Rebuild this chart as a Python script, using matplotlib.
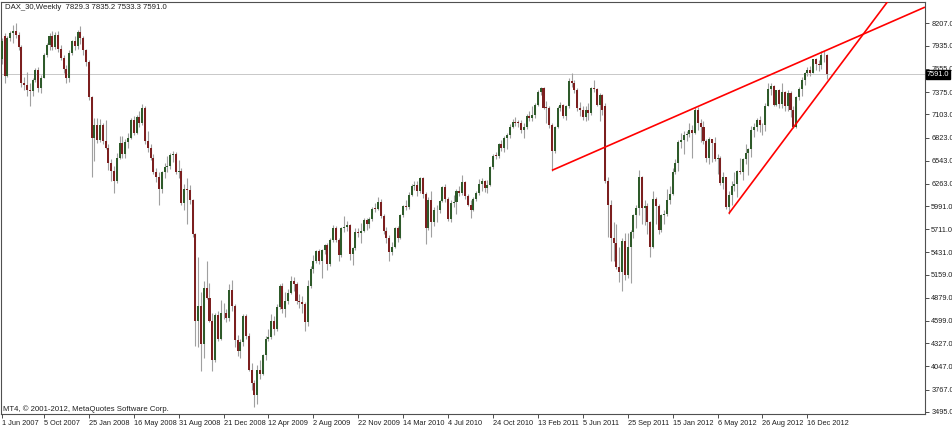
import numpy as np
import matplotlib
matplotlib.use("Agg")
import matplotlib.pyplot as plt
import matplotlib.transforms as mtransforms

plt.rcParams["font.family"] = ["Liberation Sans", "DejaVu Sans"]

# weekly DAX_30 candles, first visible bar is week index 3
first_bar = 3

opens = [
    7770, 8050, 7570, 8030, 8090, 8120, 8070, 7920, 7480, 7460,
    7400, 7390, 7520, 7640, 7420, 7550, 7820, 7950, 8060, 7920,
    8070, 7900, 7790, 7660, 7540, 7850, 7990, 7930, 8100, 8030,
    7880, 7740, 7310, 6820, 6980, 6790, 6980, 6780, 6700, 6520,
    6420, 6300, 6580, 6760, 6620, 6770, 6820, 7030, 6880, 7070,
    7000, 7180, 6780, 6700, 6580, 6400, 6340, 6200, 6400, 6460,
    6480, 6610, 6620, 6410, 6420, 6030, 6200, 6190, 6060, 5650,
    4600, 4780, 4320, 5000, 4880, 4600, 4130, 4670, 4380, 4700,
    4690, 4630, 4970, 4780, 4370, 4230, 4340, 4660, 4420, 4000,
    3840, 3700, 4000, 3950, 4180, 4380, 4400, 4600, 4500, 4770,
    5020, 4740, 4840, 4940, 5080, 5050, 4840, 4830, 4810, 4580,
    5020, 5230, 5330, 5450, 5330, 5460, 5520, 5290, 5580, 5730,
    5580, 5400, 5720, 5740, 5760, 5410, 5480, 5680, 5660, 5690,
    5820, 5780, 5830, 5970, 5960, 6040, 5870, 5690, 5610, 5430,
    5500, 5720, 5600, 5880, 5990, 5980, 6130, 6240, 6250, 6180,
    6330, 6140, 5720, 6060, 5800, 5950, 5940, 6050, 6220, 6080,
    5830, 6030, 6040, 6170, 6150, 6280, 6110, 6010, 5950, 6080,
    6150, 6260, 6290, 6210, 6250, 6460, 6610, 6600, 6750, 6700,
    6820, 6850, 6950, 7010, 7010, 7000, 6910, 6950, 7080, 7060,
    7100, 7220, 7370, 7430, 7190, 7180, 6980, 6660, 6950, 7180,
    7220, 7080, 7200, 7510, 7490, 7400, 7180, 7160, 7070, 7160,
    7120, 7430, 7410, 7220, 7340, 7200, 6300, 6000, 5600, 5540,
    5250, 5190, 5570, 5160, 5500, 5680, 5880, 5970, 6350, 5970,
    5990, 5800, 5490, 6080, 5990, 5700, 5880, 5900, 6060, 6140,
    6400, 6510, 6770, 6790, 6850, 6860, 6920, 6880, 7160, 7000,
    6950, 6780, 6580, 6800, 6760, 6560, 6580, 6270, 6340, 5980,
    6130, 6230, 6260, 6420, 6410, 6560, 6630, 6690, 6920, 6950,
    7040, 6970, 6980, 7210, 7410, 7450, 7220, 7400, 7230, 7380,
    7200, 7360, 7160, 6950, 7310, 7410, 7520, 7600, 7640, 7610,
    7780, 7720, 7700, 7830, 7829.3,
]
highs = [
    8030, 8090, 8060, 8110, 8190, 8210, 8100, 7950, 7560, 7620,
    7480, 7540, 7670, 7680, 7580, 7850, 7970, 8090, 8110, 8100,
    8110, 7940, 7830, 7700, 7880, 8010, 8050, 8130, 8180, 8060,
    7900, 7760, 7330, 7060, 7060, 7050, 7000, 7040, 6740, 6560,
    6480, 6640, 6840, 6840, 6800, 6880, 7060, 7090, 7100, 7140,
    7230, 7200, 6900, 6750, 6620, 6450, 6400, 6420, 6520, 6600,
    6640, 6660, 6650, 6550, 6450, 6260, 6330, 6250, 6080, 5670,
    5380, 4950, 5080, 5320, 5060, 4700, 4700, 4720, 4850, 4820,
    4740, 5050, 5100, 4800, 4430, 4380, 4680, 4680, 4450, 4090,
    3880, 4060, 4130, 4200, 4420, 4500, 4680, 4660, 4800, 5050,
    5060, 4950, 4990, 5140, 5130, 5070, 4920, 4900, 4830, 5100,
    5270, 5400, 5460, 5470, 5470, 5530, 5540, 5600, 5760, 5750,
    5610, 5740, 5870, 5810, 5780, 5500, 5720, 5730, 5790, 5850,
    5850, 5860, 5980, 6030, 6100, 6080, 5890, 5740, 5640, 5560,
    5740, 5750, 5900, 6000, 6060, 6160, 6260, 6290, 6300, 6340,
    6340, 6160, 6100, 6170, 5980, 6000, 6060, 6240, 6260, 6100,
    6070, 6130, 6200, 6240, 6370, 6300, 6140, 6060, 6100, 6180,
    6320, 6330, 6310, 6310, 6480, 6620, 6650, 6760, 6790, 6840,
    6880, 6990, 7050, 7070, 7040, 7030, 7000, 7110, 7150, 7200,
    7240, 7400, 7440, 7440, 7270, 7200, 7000, 6960, 7200, 7250,
    7230, 7220, 7540, 7600, 7520, 7420, 7260, 7200, 7200, 7240,
    7440, 7520, 7430, 7360, 7350, 7240, 6350, 6060, 5800, 5780,
    5500, 5600, 5670, 5670, 5700, 5900, 6000, 6430, 6360, 6060,
    6030, 5810, 6170, 6100, 6020, 5900, 5950, 6200, 6230, 6450,
    6560, 6790, 6880, 6900, 6900, 7000, 6970, 7190, 7190, 7050,
    7020, 6800, 6830, 6810, 6830, 6620, 6600, 6400, 6350, 6180,
    6300, 6410, 6430, 6580, 6580, 6740, 6700, 6960, 7000, 7060,
    7080, 7000, 7240, 7480, 7480, 7460, 7400, 7410, 7480, 7390,
    7400, 7390, 7200, 7330, 7440, 7560, 7620, 7680, 7690, 7780,
    7790, 7760, 7870, 7870, 7835.2,
]
lows = [
    7720, 7490, 7560, 7990, 7970, 8030, 7880, 7440, 7400, 7330,
    7200, 7330, 7500, 7380, 7360, 7540, 7800, 7890, 7880, 7900,
    7860, 7760, 7610, 7480, 7500, 7820, 7890, 7900, 7960, 7830,
    7690, 7280, 6350, 6540, 6760, 6770, 6740, 6690, 6430, 6290,
    6150, 6270, 6560, 6580, 6580, 6700, 6800, 6850, 6870, 6950,
    6980, 6750, 6650, 6550, 6380, 6280, 6010, 6150, 6330, 6400,
    6440, 6530, 6380, 6330, 6000, 5950, 5770, 6020, 5620, 4300,
    4280, 3990, 4150, 4860, 4590, 3990, 4100, 4350, 4370, 4620,
    4580, 4600, 4720, 4280, 4170, 4150, 4300, 4380, 3990, 3760,
    3550, 3590, 3900, 3940, 4130, 4350, 4380, 4430, 4480, 4740,
    4700, 4650, 4800, 4920, 4960, 4800, 4760, 4700, 4480, 4540,
    5000, 5180, 5300, 5290, 5120, 5410, 5220, 5270, 5560, 5560,
    5330, 5380, 5680, 5690, 5340, 5280, 5460, 5620, 5540, 5680,
    5700, 5720, 5810, 5920, 5950, 5850, 5650, 5540, 5330, 5400,
    5480, 5560, 5590, 5860, 5940, 5960, 6110, 6190, 6120, 6150,
    6090, 5530, 5700, 5620, 5750, 5800, 5910, 6040, 6040, 5810,
    5800, 5980, 5890, 6110, 6130, 6080, 5990, 5850, 5930, 6050,
    6130, 6180, 6160, 6150, 6230, 6440, 6560, 6580, 6660, 6650,
    6690, 6820, 6940, 6960, 6950, 6880, 6820, 6930, 7020, 7020,
    7060, 7200, 7340, 7170, 7000, 6940, 6420, 6640, 6940, 7150,
    7060, 7040, 7180, 7440, 7360, 7140, 7090, 7040, 7020, 7030,
    7100, 7380, 7200, 7020, 7100, 6270, 5620, 5330, 5330, 5230,
    5070, 4960, 5090, 5120, 5060, 5600, 5720, 5880, 5780, 5760,
    5650, 5370, 5480, 5780, 5650, 5680, 5780, 5870, 6020, 6130,
    6380, 6420, 6700, 6620, 6780, 6830, 6580, 6870, 6920, 6770,
    6740, 6530, 6500, 6530, 6540, 6380, 6250, 6200, 5960, 5900,
    6010, 6180, 6100, 6380, 6310, 6500, 6370, 6590, 6830, 6900,
    6890, 6850, 6900, 7200, 7340, 7200, 7210, 7180, 7180, 7150,
    7150, 7070, 6940, 6940, 7280, 7330, 7460, 7570, 7570, 7600,
    7640, 7630, 7660, 7740, 7533.3,
]
closes = [
    7990, 7570, 8030, 8090, 8120, 8070, 7920, 7480, 7460, 7400,
    7390, 7520, 7640, 7420, 7550, 7820, 7950, 8060, 7920, 8070,
    7900, 7790, 7660, 7540, 7850, 7990, 7930, 8100, 8030, 7880,
    7740, 7310, 6820, 6980, 6790, 6980, 6780, 6700, 6520, 6420,
    6300, 6580, 6760, 6620, 6770, 6820, 7030, 6880, 7070, 7000,
    7180, 6780, 6700, 6580, 6400, 6340, 6200, 6400, 6460, 6480,
    6610, 6620, 6410, 6420, 6030, 6200, 6190, 6060, 5650, 4600,
    4780, 4320, 5000, 4880, 4600, 4130, 4670, 4380, 4700, 4690,
    4630, 4970, 4780, 4370, 4230, 4340, 4660, 4420, 4000, 3840,
    3700, 4000, 3950, 4180, 4380, 4400, 4600, 4500, 4770, 5020,
    4740, 4840, 4940, 5080, 5050, 4840, 4830, 4810, 4580, 5020,
    5230, 5330, 5450, 5330, 5460, 5520, 5290, 5580, 5730, 5580,
    5400, 5720, 5740, 5760, 5410, 5480, 5680, 5660, 5690, 5820,
    5780, 5830, 5960, 5960, 6040, 5870, 5690, 5610, 5430, 5500,
    5720, 5600, 5880, 5990, 5980, 6130, 6240, 6250, 6180, 6330,
    6140, 5720, 6060, 5800, 5950, 5940, 6050, 6220, 6080, 5830,
    6030, 6040, 6170, 6150, 6280, 6110, 6010, 5950, 6080, 6150,
    6260, 6290, 6210, 6250, 6460, 6600, 6600, 6750, 6700, 6820,
    6850, 6950, 7010, 7000, 7000, 6910, 6950, 7080, 7060, 7100,
    7220, 7370, 7430, 7180, 7180, 6980, 6660, 6950, 7180, 7220,
    7080, 7200, 7510, 7490, 7400, 7180, 7160, 7070, 7160, 7120,
    7420, 7410, 7220, 7340, 7160, 6300, 6000, 5600, 5540, 5250,
    5190, 5570, 5160, 5500, 5680, 5880, 5970, 6350, 5970, 5990,
    5800, 5490, 6080, 5990, 5700, 5880, 5900, 6060, 6140, 6400,
    6510, 6770, 6790, 6850, 6860, 6920, 6880, 7160, 7000, 6950,
    6780, 6580, 6800, 6760, 6560, 6580, 6270, 6340, 5980, 6130,
    6230, 6260, 6420, 6410, 6560, 6630, 6690, 6920, 6950, 7040,
    6970, 6980, 7210, 7410, 7450, 7220, 7400, 7230, 7380, 7200,
    7360, 7160, 6950, 7310, 7410, 7520, 7600, 7640, 7610, 7780,
    7720, 7700, 7830, 7820, 7591.0,
]

# date labels (bar index, text)
label_bars = [3, 18, 34, 50, 66, 82, 98, 114, 130, 146, 162, 178, 194, 210, 226, 242, 258, 274, 290]
label_text = ["1 Jun 2007", "5 Oct 2007", "25 Jan 2008", "16 May 2008", "31 Aug 2008",
              "21 Dec 2008", "12 Apr 2009", "2 Aug 2009", "22 Nov 2009", "14 Mar 2010",
              "4 Jul 2010", "24 Oct 2010", "13 Feb 2011", "5 Jun 2011", "25 Sep 2011",
              "15 Jan 2012", "6 May 2012", "26 Aug 2012", "16 Dec 2012"]
price_ticks = [8207.0, 7935.0, 7655.0, 7375.0, 7103.0, 6823.0, 6543.0, 6263.0, 5991.0,
               5711.0, 5431.0, 5159.0, 4879.0, 4599.0, 4327.0, 4047.0, 3767.0, 3495.0]

# trend lines: two anchor points each (bar, price), drawn as rays
trend1 = [(199, 6425), (295, 7855)]
trend2 = [(262, 5900), (285, 6945)]
bid = 7591.0

o = np.array(opens)
h = np.array(highs)
l = np.array(lows)
c = np.array(closes)
x = np.arange(len(o)) + first_bar

fig = plt.figure(figsize=(9.52, 4.29), dpi=100)
ax = fig.add_axes([0.001, 15 / 429, 924 / 952, 412 / 429])
x_left, x_right = 2.70, 331.9
ax.set_xlim(x_left, x_right)
ax.set_ylim(3470, 8467)

up = c >= o
body_lo = np.minimum(o, c)
body_h = np.maximum(np.abs(c - o), 10)

ax.vlines(x, l, h, color="#a0a0a0", lw=0.8, zorder=2)
ax.bar(x[up], body_h[up], bottom=body_lo[up], width=0.72, color="#2e5a2a", lw=0, zorder=3)
ax.bar(x[~up], body_h[~up], bottom=body_lo[~up], width=0.72, color="#7c1f1f", lw=0, zorder=3)

ax.axhline(bid, color="#c8c8c8", lw=0.7, zorder=1)

for (x1, y1), (x2, y2) in [trend1, trend2]:
    k = (y2 - y1) / (x2 - x1)
    ax.plot([x1, x_right], [y1, y1 + k * (x_right - x1)], color="#ff0000", lw=1.2, zorder=4,
            solid_capstyle="butt")

# axes look
for s in ax.spines.values():
    s.set_color("#505050")
    s.set_linewidth(0.8)
ax.yaxis.tick_right()
ax.set_yticks(price_ticks)
ax.set_yticklabels(["%.1f" % v for v in price_ticks])
ax.set_xticks(label_bars)
ax.set_xticklabels(label_text)
ax.tick_params(axis="both", direction="out", length=3, width=0.6, color="#303030",
               labelsize=5.3, labelcolor="#202020", pad=1.5)
plt.setp(ax.get_xticklabels(), ha="left")

trans = mtransforms.blended_transform_factory(ax.transAxes, ax.transData)
ax.text(1.002, bid, "7591.0", transform=trans, fontsize=5.3, color="white", va="center", ha="left",
        bbox=dict(boxstyle="square,pad=0.12", fc="black", ec="black"), zorder=6, clip_on=False)

fig.text(5 / 952, 1 - 7.5 / 429, "DAX_30,Weekly  7829.3 7835.2 7533.3 7591.0", fontsize=5.6,
         color="#202020", va="center", ha="left")
fig.text(3 / 952, 1 - 409 / 429, "MT4, \u00a9 2001-2012, MetaQuotes Software Corp.", fontsize=5.6,
         color="#202020", va="center", ha="left")

fig.savefig("out.png", dpi=100, facecolor="white")
